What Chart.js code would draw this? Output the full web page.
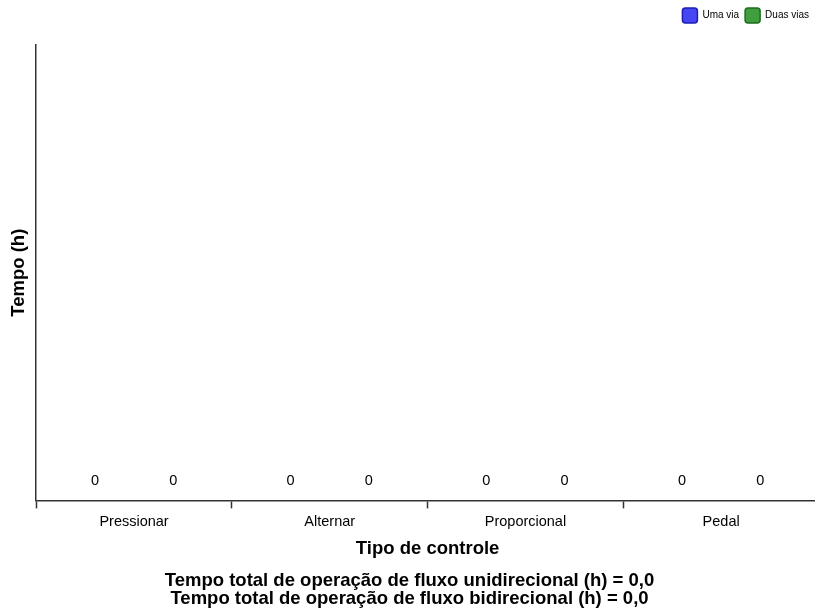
<!DOCTYPE html>
<html>
<head>
<meta charset="utf-8">
<script src="https://cdn.jsdelivr.net/npm/chart.js@4/dist/chart.umd.min.js"></script>
<style>
html,body{margin:0;padding:0;background:#fff;overflow:hidden;width:815px;height:616px;}
#wrap{position:absolute;left:0;top:0;width:819px;height:616px;}
</style>
</head>
<body>
<div id="wrap"><canvas id="c" width="819" height="616"></canvas></div>
<script>
const categories = ['Pressionar', 'Alternar', 'Proporcional', 'Pedal'];
const seriesNames = ['Uma via', 'Duas vias'];
const umaVia = [0, 0, 0, 0];
const duasVias = [0, 0, 0, 0];
const yAxisTitle = 'Tempo (h)';
const xAxisTitle = 'Tipo de controle';
const footerLines = [
  'Tempo total de operação de fluxo unidirecional (h) = 0,0',
  'Tempo total de operação de fluxo bidirecional (h) = 0,0'
];

const FONT = "'Liberation Sans', Arial, sans-serif";

const valueLabels = {
  id: 'valueLabels',
  afterDatasetsDraw(chart) {
    const ctx = chart.ctx;
    ctx.save();
    ctx.font = '14.5px ' + FONT;
    ctx.fillStyle = '#000';
    ctx.textAlign = 'center';
    ctx.textBaseline = 'middle';
    chart.data.datasets.forEach((ds, i) => {
      const meta = chart.getDatasetMeta(i);
      meta.data.forEach((bar, j) => {
        ctx.fillText(String(ds.data[j]), bar.x, bar.y - 19);
      });
    });
    ctx.restore();
  }
};

const legendSpace = {
  id: 'legendSpace',
  beforeInit(chart) {
    const fit = chart.legend.fit;
    chart.legend.fit = function () {
      fit.bind(chart.legend)();
      this.height = 45;
    };
  },
  afterLayout(chart) {
    chart.legend.top += 2;
    chart.legend.right -= 4;
  }
};

new Chart(document.getElementById('c'), {
  type: 'bar',
  data: {
    labels: categories,
    datasets: [
      { label: seriesNames[0], data: umaVia, backgroundColor: '#4646f2', borderColor: '#1e1eb4' },
      { label: seriesNames[1], data: duasVias, backgroundColor: '#3f9f3f', borderColor: '#1b6e1b' }
    ]
  },
  options: {
    responsive: false,
    animation: false,
    devicePixelRatio: 1,
    layout: { padding: { left: 0, right: 0, top: 0, bottom: 0 } },
    datasets: { bar: { categoryPercentage: 0.8, barPercentage: 0.9 } },
    plugins: {
      legend: {
        position: 'top',
        align: 'end',
        labels: {
          usePointStyle: false,
          useBorderRadius: true,
          borderRadius: 3,
          boxWidth: 15,
          boxHeight: 15,
          padding: 6,
          color: '#000',
          font: { family: FONT, size: 10 },
          generateLabels(chart) {
            return chart.data.datasets.map((ds, i) => ({
              text: ds.label,
              fillStyle: ds.backgroundColor,
              strokeStyle: ds.borderColor,
              lineWidth: 1.5,
              borderRadius: 3,
              datasetIndex: i,
              hidden: false
            }));
          }
        }
      },
      title: {
        display: true,
        position: 'bottom',
        text: footerLines,
        color: '#000',
        font: { family: FONT, size: 18.5, weight: 'bold', lineHeight: '18px' },
        padding: { top: 7, bottom: 8 }
      },
      tooltip: { enabled: false }
    },
    scales: {
      x: {
        offset: true,
        grid: { display: true, offset: true, drawOnChartArea: false, drawTicks: true, tickLength: 8, tickWidth: 1.5, tickColor: '#333', color: '#333', lineWidth: 1 },
        border: { display: true, color: '#333', width: 1.5 },
        ticks: { color: '#000', font: { family: FONT, size: 14.5 }, padding: 5 },
        title: { display: true, text: xAxisTitle, color: '#000', font: { family: FONT, size: 18.5, weight: 'bold' }, padding: { top: 2, bottom: 5 } }
      },
      y: {
        min: 0,
        max: 1,
        grid: { display: false, drawTicks: false },
        border: { display: true, color: '#333', width: 1.5 },
        ticks: { display: false },
        title: { display: true, text: yAxisTitle, color: '#000', font: { family: FONT, size: 18.5, weight: 'bold' }, padding: { top: 8, bottom: 6 } }
      }
    }
  },
  plugins: [valueLabels, legendSpace]
});
</script>
</body>
</html>
